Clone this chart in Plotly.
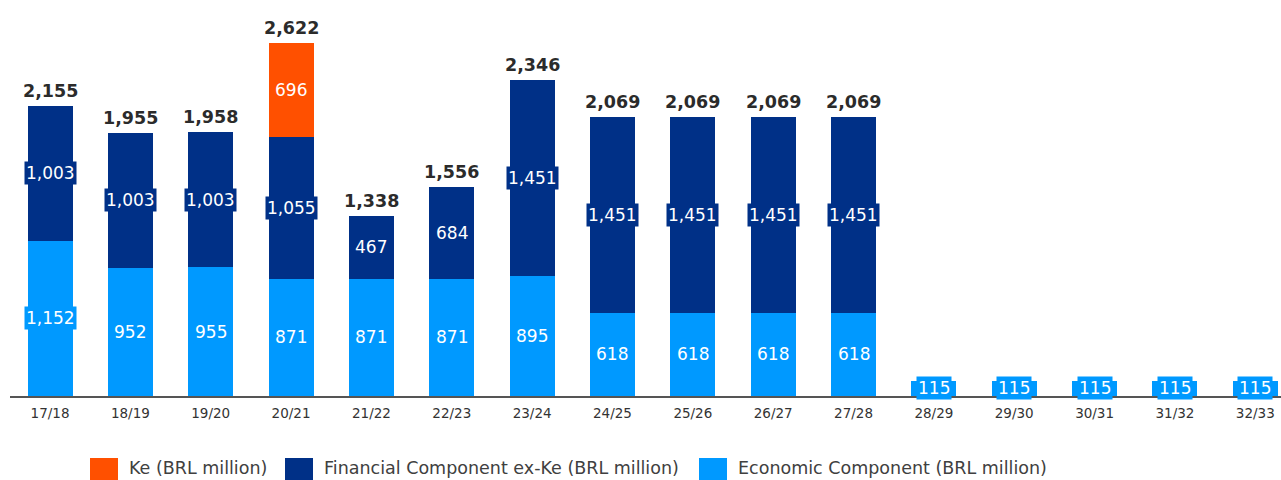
import plotly.graph_objects as go

# Fiscal years
years = ["17/18", "18/19", "19/20", "20/21", "21/22", "22/23", "23/24", "24/25",
         "25/26", "26/27", "27/28", "28/29", "29/30", "30/31", "31/32", "32/33"]

# Components in BRL million
economic = [1152, 952, 955, 871, 871, 871, 895, 618, 618, 618, 618, 115, 115, 115, 115, 115]
financial_ex_ke = [1003, 1003, 1003, 1055, 467, 684, 1451, 1451, 1451, 1451, 1451, 0, 0, 0, 0, 0]
ke = [0, 0, 0, 696, 0, 0, 0, 0, 0, 0, 0, 0, 0, 0, 0, 0]

# Reported totals (rounded figures; None where only one component exists)
totals = [2155, 1955, 1958, 2622, 1338, 1556, 2346, 2069, 2069, 2069, 2069,
          None, None, None, None, None]

series_names = ["Economic Component (BRL million)",
                "Financial Component ex-Ke (BRL million)",
                "Ke (BRL million)"]
series_colors = ["#0099FF", "#003087", "#FF5000"]
series_values = [economic, financial_ex_ke, ke]

FONT = "DejaVu Sans"

fig = go.Figure()
for name, color, vals in zip(series_names, series_colors, series_values):
    fig.add_trace(go.Bar(
        x=years, y=vals, name=name, marker_color=color,
        marker_line_width=0, width=0.56, showlegend=False,
    ))

annotations = []
# segment value labels, boxed in the segment colour
base = [0] * len(years)
for color, vals in zip(series_colors, series_values):
    for i, v in enumerate(vals):
        if v > 0:
            annotations.append(dict(
                x=years[i], y=base[i] + v / 2, text=f"{v:,}", showarrow=False,
                font=dict(family=FONT, size=17, color="white"),
                bgcolor=color, borderpad=1, xanchor="center", yanchor="middle",
            ))
        base[i] += v

# totals above the stacked bars
for i, total in enumerate(totals):
    if total is not None:
        annotations.append(dict(
            x=years[i], y=base[i], text=f"<b>{total:,}</b>", showarrow=False,
            font=dict(family=FONT, size=17.5, color="#2b2b2b"),
            xanchor="center", yanchor="bottom", yshift=3,
        ))

# legend drawn as swatches + labels below the axis
W, H = 1281, 480
L, R, T, B = 10, 0, 20, 84
pw, ph = W - L - R, H - T - B
legend_items = [("Ke (BRL million)", "#FF5000", 90),
                ("Financial Component ex-Ke (BRL million)", "#003087", 285),
                ("Economic Component (BRL million)", "#0099FF", 699)]
shapes = []
for label, color, px in legend_items:
    shapes.append(dict(
        type="rect", xref="paper", yref="paper",
        x0=(px - L) / pw, x1=(px + 28 - L) / pw,
        y0=-(481 - (H - B)) / ph, y1=-(458 - (H - B)) / ph,
        fillcolor=color, line_width=0,
    ))
    annotations.append(dict(
        xref="paper", yref="paper", x=(px + 37 - L) / pw,
        y=-(468 - (H - B)) / ph, text=label, showarrow=False,
        xanchor="left", yanchor="middle",
        font=dict(family=FONT, size=17.5, color="#404040"),
    ))

fig.update_layout(
    barmode="stack",
    width=W, height=H,
    margin=dict(l=L, r=R, t=T, b=B),
    paper_bgcolor="white", plot_bgcolor="white",
    xaxis=dict(
        type="category", range=[-0.498, 15.32],
        showline=True, linecolor="#555555", linewidth=1.5,
        ticks="", showgrid=False, ticklabelstandoff=4,
        tickfont=dict(family=FONT, size=13.5, color="#333333"),
    ),
    yaxis=dict(range=[0, 2793], visible=False, showgrid=False),
    annotations=annotations,
    shapes=shapes,
)

fig.write_html("out.html")
